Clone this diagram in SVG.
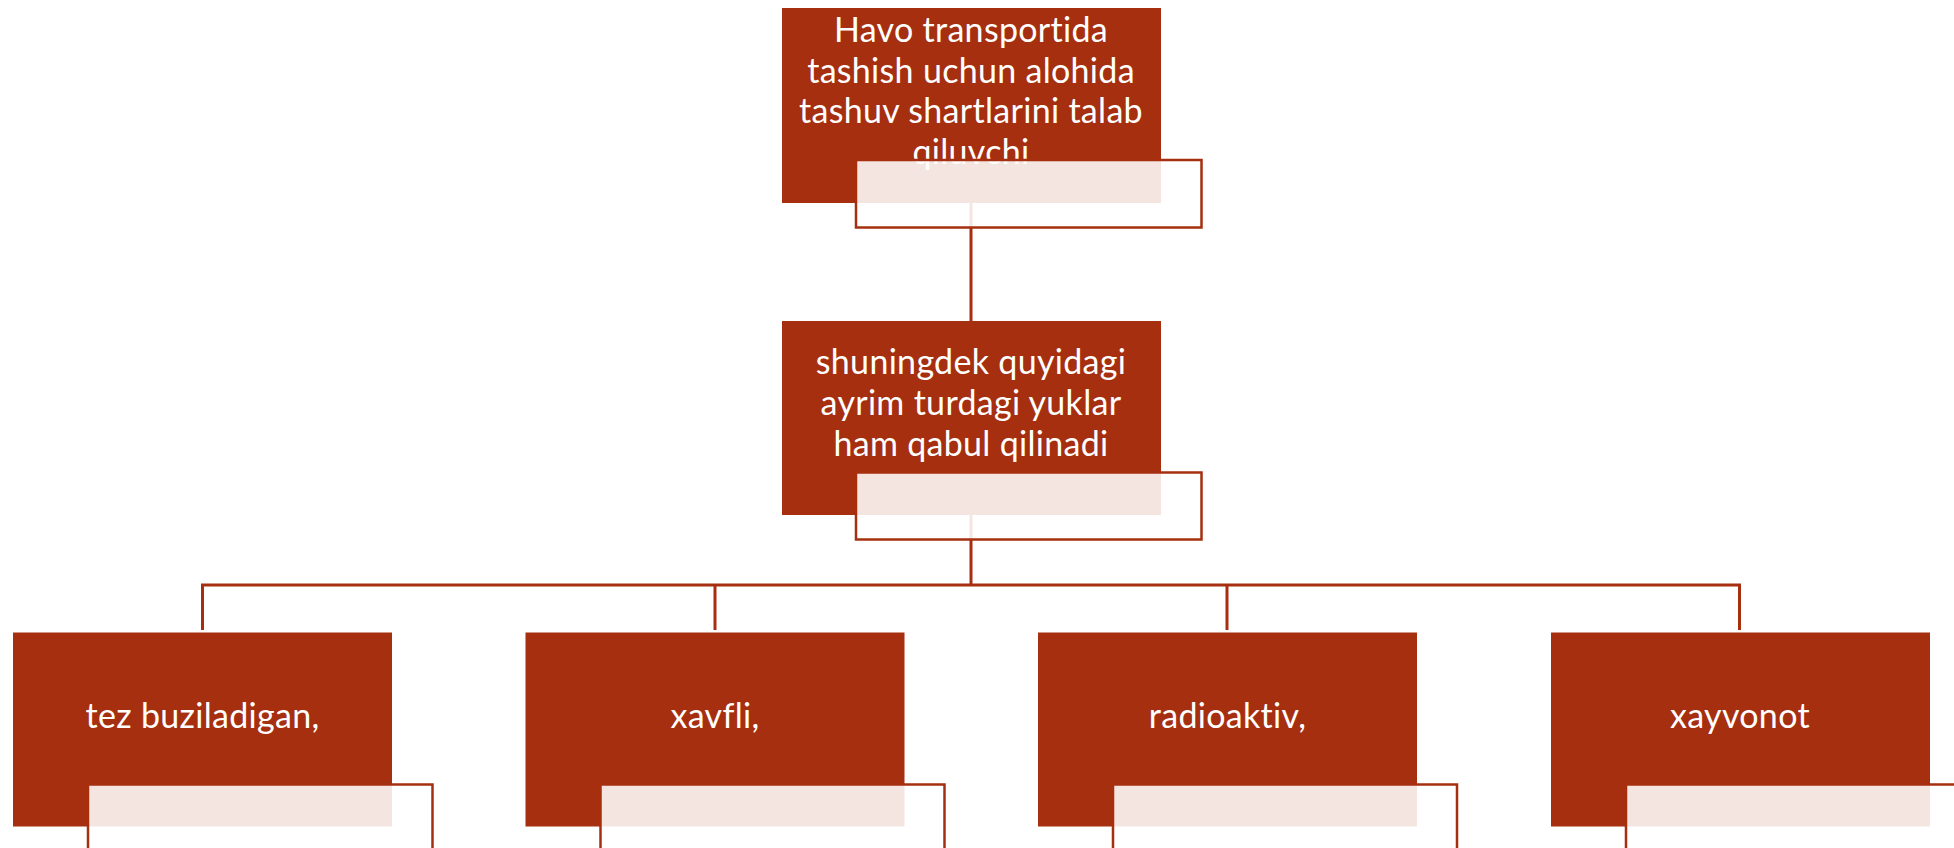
<svg xmlns="http://www.w3.org/2000/svg" width="1954" height="848" viewBox="0 0 1954 848">
<style>
.box{fill:#A52F0F}
.sec{fill:#FFFFFF;fill-opacity:0.88;stroke:#A52F0F;stroke-width:2.5}
.conn{stroke:#A52F0F;stroke-width:3;fill:none}
.t{font-family:Lato,"Liberation Sans",sans-serif;font-size:34px;fill:#FFFFFF;text-anchor:middle;font-variant-ligatures:none;letter-spacing:0.3px}
</style>
<rect width="1954" height="848" fill="#FFFFFF"/>
<g id="connectors">
<line class="conn" x1="971" y1="203" x2="971" y2="321"/>
<line class="conn" x1="971" y1="515" x2="971" y2="585"/>
<polyline class="conn" points="202.5,630 202.5,585 1739.5,585 1739.5,630"/>
<line class="conn" x1="715" y1="585" x2="715" y2="630"/>
<line class="conn" x1="1227" y1="585" x2="1227" y2="630"/>
</g>
<g id="node-top">
<rect class="box" x="782" y="8" width="379" height="195"/>
<text class="t" x="971" y="42">Havo transportida</text>
<text class="t" x="971" y="83">tashish uchun alohida</text>
<text class="t" x="971" y="123">tashuv shartlarini talab</text>
<text class="t" x="971" y="164">qiluvchi</text>
<rect class="sec" x="856" y="160" width="345.5" height="67.5"/>
</g>
<g id="node-mid">
<rect class="box" x="782" y="321" width="379" height="194"/>
<text class="t" x="971" y="374">shuningdek quyidagi</text>
<text class="t" x="971" y="415">ayrim turdagi yuklar</text>
<text class="t" x="971" y="456">ham qabul qilinadi</text>
<rect class="sec" x="856" y="472.5" width="345.5" height="67"/>
</g>
<g id="node-1">
<rect class="box" x="13" y="632.5" width="379" height="194"/>
<text class="t" x="202.5" y="728">tez buziladigan,</text>
<rect class="sec" x="88" y="784.5" width="344.5" height="67.5"/>
</g>
<g id="node-2">
<rect class="box" x="525.5" y="632.5" width="379" height="194"/>
<text class="t" x="715" y="728">xavfli,</text>
<rect class="sec" x="600.5" y="784.5" width="344" height="67.5"/>
</g>
<g id="node-3">
<rect class="box" x="1038" y="632.5" width="379" height="194"/>
<text class="t" x="1227.5" y="728">radioaktiv,</text>
<rect class="sec" x="1113" y="784.5" width="344" height="67.5"/>
</g>
<g id="node-4">
<rect class="box" x="1551" y="632.5" width="379" height="194"/>
<text class="t" x="1740" y="728">xayvonot</text>
<rect class="sec" x="1626" y="784.5" width="344" height="67.5"/>
</g>
</svg>
